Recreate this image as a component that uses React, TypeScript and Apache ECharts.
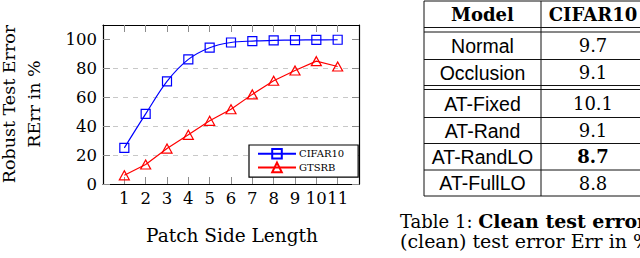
import React, { useEffect, useRef } from 'react';
import * as echarts from 'echarts';

// ---- chart data ----
const patchSides = [1, 2, 3, 4, 5, 6, 7, 8, 9, 10, 11];
const cifar10RErr = [25, 48.5, 71, 86.2, 94.3, 97.9, 98.9, 99.3, 99.6, 99.7, 99.8];
const gtsrbRErr = [6, 13.5, 24.5, 34, 43.7, 51.7, 62, 71.4, 78.5, 85, 81.3];
const yTickValues = [0, 20, 40, 60, 80, 100];
const seriesNames = ['CIFAR10', 'GTSRB'];

// ---- table data ----
const tableHeader = ['Model', 'CIFAR10'];
const tableModels = ['Normal', 'Occlusion', 'AT-Fixed', 'AT-Rand', 'AT-RandLO', 'AT-FullLO'];
const tableCifar10Err = [9.7, 9.1, 10.1, 9.1, 8.7, 8.8];
const captionBold = 'Clean test error.';
const captionLine2 = '(clean) test error Err in %';

const SERIF = 'DejaVu Serif';
const SANS = 'Liberation Sans';

export default function App() {
  const ref = useRef<HTMLDivElement>(null);

  useEffect(() => {
    if (!ref.current) return;
    const chart = echarts.init(ref.current, undefined, { renderer: 'svg' });

    // table layout (pixels)
    const tLeft = 424;
    const tSep = 541;
    const tRight = 700;
    const hLines = [1, 27.5, 32, 59.5, 85.5, 89.5, 117.5, 143.5, 170, 196];
    const rowTop = [32, 59.5, 89.5, 117.5, 143.5, 170];
    const rowBottom = [59.5, 85.5, 117.5, 143.5, 170, 196];
    const col1X = (tLeft + tSep) / 2;
    const col2X = 593;
    const minErr = Math.min(...tableCifar10Err);

    const graphics: any[] = [];
    hLines.forEach((y) => {
      graphics.push({
        type: 'line',
        shape: { x1: tLeft, y1: y, x2: tRight, y2: y },
        style: { stroke: '#111', lineWidth: 1 },
      });
    });
    [tLeft, tSep].forEach((x) => {
      graphics.push({
        type: 'line',
        shape: { x1: x, y1: 1, x2: x, y2: 196 },
        style: { stroke: '#111', lineWidth: 1 },
      });
    });
    graphics.push({
      type: 'text', x: col1X, y: 14,
      style: { text: tableHeader[0], font: `bold 18px "${SERIF}"`, fill: '#000', align: 'center', verticalAlign: 'middle' },
    });
    graphics.push({
      type: 'text', x: col2X, y: 14,
      style: { text: tableHeader[1], font: `bold 18px "${SERIF}"`, fill: '#000', align: 'center', verticalAlign: 'middle' },
    });
    tableModels.forEach((m, i) => {
      const cy = (rowTop[i] + rowBottom[i]) / 2;
      graphics.push({
        type: 'text', x: col1X, y: cy,
        style: { text: m, font: `19.5px "${SANS}"`, fill: '#000', align: 'center', verticalAlign: 'middle' },
      });
      const v = tableCifar10Err[i];
      graphics.push({
        type: 'text', x: col2X, y: cy,
        style: {
          text: v.toFixed(1),
          font: `${v === minErr ? 'bold ' : ''}18px "${SERIF}"`,
          fill: '#000', align: 'center', verticalAlign: 'middle',
        },
      });
    });
    // caption
    graphics.push({
      type: 'text', x: 400, y: 221,
      style: {
        text: '{r|Table 1: }{b|' + captionBold + '}',
        fill: '#000', align: 'left', verticalAlign: 'middle',
        rich: {
          r: { font: `18px "${SERIF}"`, fill: '#000' },
          b: { font: `bold 19px "${SERIF}"`, fill: '#000' },
        },
      },
    });
    graphics.push({
      type: 'text', x: 400, y: 241,
      style: { text: captionLine2, font: `19px "${SERIF}"`, fill: '#000', align: 'left', verticalAlign: 'middle' },
    });
    // y axis title (two lines, rotated)
    graphics.push({
      type: 'text', x: 9, y: 104, rotation: Math.PI / 2,
      style: { text: 'Robust Test Error', font: `17.5px "${SERIF}"`, fill: '#000', align: 'center', verticalAlign: 'middle' },
    });
    graphics.push({
      type: 'text', x: 34, y: 104, rotation: Math.PI / 2,
      style: { text: 'RErr in %', font: `17.5px "${SERIF}"`, fill: '#000', align: 'center', verticalAlign: 'middle' },
    });
    // x axis title
    graphics.push({
      type: 'text', x: 232, y: 235,
      style: { text: 'Patch Side Length', font: `18.5px "${SERIF}"`, fill: '#000', align: 'center', verticalAlign: 'middle' },
    });

    const tickStyle = { color: '#8c8c8c', width: 1 };
    const boxLine = { show: true, onZero: false, lineStyle: { color: '#000', width: 1.2 } };

    chart.setOption({
      animation: false,
      backgroundColor: '#fff',
      grid: { left: 103, top: 25, right: 281, bottom: 74, containLabel: false },
      xAxis: [
        {
          type: 'value', position: 'bottom', min: 0, max: 12, interval: 1,
          axisLine: boxLine,
          axisTick: { show: true, inside: true, length: 7, lineStyle: tickStyle, customValues: patchSides },
          axisLabel: {
            show: true, customValues: patchSides, margin: 6,
            fontFamily: SERIF, fontSize: 16.5, color: '#000',
          },
          splitLine: { show: false },
        },
        {
          type: 'value', position: 'top', min: 0, max: 12, interval: 1,
          axisLine: boxLine,
          axisTick: { show: true, inside: true, length: 7, lineStyle: tickStyle, customValues: patchSides },
          axisLabel: { show: false },
          splitLine: { show: false },
        },
      ],
      yAxis: [
        {
          type: 'value', position: 'left', min: 0, max: 110, interval: 20,
          axisLine: boxLine,
          axisTick: { show: true, inside: true, length: 7, lineStyle: tickStyle, customValues: yTickValues },
          axisLabel: {
            show: true, customValues: yTickValues, margin: 6,
            fontFamily: SERIF, fontSize: 16.5, color: '#000',
          },
          splitLine: {
            show: true, showMinLine: false, showMaxLine: false,
            lineStyle: { color: '#c8c8c8', width: 1, type: [5, 5] },
          },
        },
        {
          type: 'value', position: 'right', min: 0, max: 110, interval: 20,
          axisLine: boxLine,
          axisTick: { show: true, inside: true, length: 7, lineStyle: tickStyle, customValues: yTickValues },
          axisLabel: { show: false },
          splitLine: { show: false },
        },
      ],
      legend: {
        data: seriesNames,
        orient: 'vertical',
        left: 249,
        top: 145,
        padding: [3, 14, 4, 8],
        itemWidth: 38,
        itemHeight: 12,
        itemGap: 2,
        backgroundColor: '#fff',
        borderColor: '#000',
        borderWidth: 1.2,
        borderRadius: 0,
        textStyle: { fontFamily: SERIF, fontSize: 10, color: '#000', padding: [0, 0, 0, -2] },
        selectedMode: false,
        z: 10,
      },
      series: [
        {
          name: seriesNames[0],
          type: 'line',
          xAxisIndex: 0,
          yAxisIndex: 0,
          data: patchSides.map((x, i) => [x, cifar10RErr[i]]),
          smooth: 0.35,
          symbol: 'rect',
          symbolSize: 9,
          lineStyle: { color: '#0000ff', width: 1.2 },
          itemStyle: { color: 'rgba(255,255,255,0)', borderColor: '#0000ff', borderWidth: 1.2 },
          emphasis: { disabled: true },
          z: 3,
        },
        {
          name: seriesNames[1],
          type: 'line',
          xAxisIndex: 0,
          yAxisIndex: 0,
          data: patchSides.map((x, i) => [x, gtsrbRErr[i]]),
          symbol: 'triangle',
          symbolSize: [10, 9],
          lineStyle: { color: '#ff0000', width: 1.2 },
          itemStyle: { color: 'rgba(255,255,255,0)', borderColor: '#ff0000', borderWidth: 1.2 },
          emphasis: { disabled: true },
          z: 3,
        },
      ],
      graphic: graphics,
    });

    return () => chart.dispose();
  }, []);

  return (
    <div
      ref={ref}
      style={{ position: 'fixed', left: 0, top: 0, width: 640, height: 258, background: '#fff' }}
    />
  );
}
